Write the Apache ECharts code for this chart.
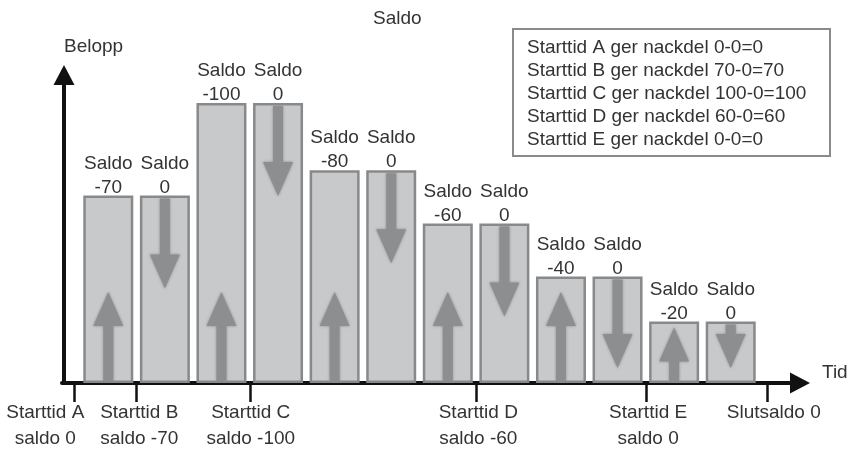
<!DOCTYPE html>
<html><head><meta charset="utf-8">
<script src="https://cdn.jsdelivr.net/npm/echarts@6/dist/echarts.min.js"></script>
<style>html,body{margin:0;padding:0;background:#fff}#c{width:851px;height:455px}</style>
</head><body><div id="c"></div>
<script>
// ---- data ----
const categories = ['A1','A2','B1','B2','C1','C2','D1','D2','E1','E2','F1','F2'];
const barValues = [67, 67, 100, 100, 76, 76, 57, 57, 38, 38, 22, 22];
const saldoLabels = ['-70','0','-100','0','-80','0','-60','0','-40','0','-20','0'];
const arrowDirs = ['up','down','up','down','up','down','up','down','up','down','up','down'];
// time marks along the x axis, in bar-slot units measured from the origin
const tickPositions = [0.21, 1.32, 3.32, 7.32, 10.32, 12.47];
// label anchors, in bar-slot units measured from the left edge of the picture
const labelPositions = [0.80, 2.46, 4.43, 8.45, 11.45, 13.67];
const tickLabels = ['Starttid A\nsaldo 0','Starttid B\nsaldo -70','Starttid C\nsaldo -100','Starttid D\nsaldo -60','Starttid E\nsaldo 0','Slutsaldo 0'];
const legendLines = [
  'Starttid A ger nackdel 0-0=0',
  'Starttid B ger nackdel 70-0=70',
  'Starttid C ger nackdel 100-0=100',
  'Starttid D ger nackdel 60-0=60',
  'Starttid E ger nackdel 0-0=0'
];
const titleText = 'Saldo';
const yName = 'Belopp';
const xName = 'Tid';

// ---- styles ----
const FONT = 'Liberation Sans';
const TXT = '#333';
const FS = 19;
const AXIS = '#111';
const ARROW = '#8d8e90';

const chart = echarts.init(document.getElementById('c'), null, {renderer: 'canvas'});

function nearestIndex(arr, val) {
  let best = 0;
  for (let i = 0; i < arr.length; i++) {
    if (Math.abs(arr[i] - val) < Math.abs(arr[best] - val)) best = i;
  }
  return best;
}

const option = {
  backgroundColor: '#fff',
  animation: false,
  title: {
    text: titleText, left: 373, top: 9, padding: 0,
    textStyle: {fontFamily: FONT, fontSize: FS, fontWeight: 'normal', color: TXT}
  },
  grid: [
    {left: 80, right: 92, top: 75, bottom: 72},
    {left: 62, right: 51, top: 75, bottom: 72},
    {left: 0, right: 0, top: 75, bottom: 72}
  ],
  xAxis: [
    {type: 'category', gridIndex: 0, data: categories,
     axisLine: {show: false}, axisTick: {show: false}, axisLabel: {show: false}, splitLine: {show: false}},
    {type: 'value', gridIndex: 1, min: 0, max: 13.04,
     name: xName, nameLocation: 'end', nameGap: 22,
     nameTextStyle: {fontFamily: FONT, fontSize: FS, color: TXT, verticalAlign: 'bottom', padding: [0, 0, 1, 0]},
     axisLine: {show: true, lineStyle: {color: AXIS, width: 4}, symbol: ['none', 'triangle'], symbolSize: [21, 20]},
     axisTick: {show: true, customValues: tickPositions, length: 19, lineStyle: {color: AXIS, width: 2.5}},
     axisLabel: {show: false},
     splitLine: {show: false}},
    {type: 'value', gridIndex: 2, min: 0, max: 15.035,
     axisLine: {show: false}, axisTick: {show: false}, splitLine: {show: false},
     axisLabel: {
       show: true, customValues: labelPositions, margin: 17, showMinLabel: true, showMaxLabel: true,
       hideOverlap: false,
       formatter: function (val) { return tickLabels[nearestIndex(labelPositions, val)]; },
       fontFamily: FONT, fontSize: FS, color: TXT, lineHeight: 26
     }}
  ],
  yAxis: [
    {type: 'value', gridIndex: 0, min: 0, max: 110, offset: 16,
     name: yName, nameLocation: 'end', nameGap: 19,
     nameTextStyle: {fontFamily: FONT, fontSize: FS, color: TXT, align: 'left'},
     axisLine: {show: true, lineStyle: {color: AXIS, width: 4}, symbol: ['none', 'triangle'], symbolSize: [21, 20]},
     axisTick: {show: false}, axisLabel: {show: false}, splitLine: {show: false}},
    {type: 'value', gridIndex: 1, show: false},
    {type: 'value', gridIndex: 2, show: false}
  ],
  graphic: [
    {type: 'rect', left: 512, top: 28, shape: {width: 317, height: 127},
     style: {fill: '#fff', stroke: '#8a8a8a', lineWidth: 2}, z: 10},
    {type: 'text', left: 527, top: 36, z: 11,
     style: {text: legendLines.join('\n'), font: FS + 'px "' + FONT + '"', fill: TXT, lineHeight: 23}}
  ],
  series: [
    {type: 'bar', xAxisIndex: 0, yAxisIndex: 0, data: barValues, barWidth: 50,
     itemStyle: {color: '#c8c9cb', borderColor: '#88898b', borderWidth: 2.5},
     label: {show: true, position: 'top', distance: -4,
       formatter: p => 'Saldo\n' + saldoLabels[p.dataIndex],
       fontFamily: FONT, fontSize: FS, color: TXT, lineHeight: 24, align: 'center'}},
    {type: 'custom', xAxisIndex: 0, yAxisIndex: 0, clip: false, z: 3,
     data: barValues.map((v, i) => [i, v]),
     encode: {x: 0, y: 1},
     renderItem: function (params, api) {
       const i = api.value(0), v = api.value(1);
       const top = api.coord([i, v]);
       const base = api.coord([i, 0]);
       const cx = top[0];
       const sw = 10, hw = 30, hh = 34;
       let pts;
       if (arrowDirs[i] === 'up') {
         const tip = Math.max(base[1] - 91, top[1] + 6);
         pts = [[cx - sw / 2, base[1] - 2], [cx - sw / 2, tip + hh], [cx - hw / 2, tip + hh], [cx, tip],
                [cx + hw / 2, tip + hh], [cx + sw / 2, tip + hh], [cx + sw / 2, base[1] - 2]];
       } else {
         const start = top[1] + 3;
         const tip = Math.min(top[1] + 93, base[1] - 15);
         pts = [[cx - sw / 2, start], [cx - sw / 2, tip - hh], [cx - hw / 2, tip - hh], [cx, tip],
                [cx + hw / 2, tip - hh], [cx + sw / 2, tip - hh], [cx + sw / 2, start]];
       }
       return {type: 'polygon', shape: {points: pts},
               style: {fill: ARROW, shadowBlur: 3, shadowColor: ARROW}};
     }}
  ]
};
chart.setOption(option);
</script>
</body></html>
